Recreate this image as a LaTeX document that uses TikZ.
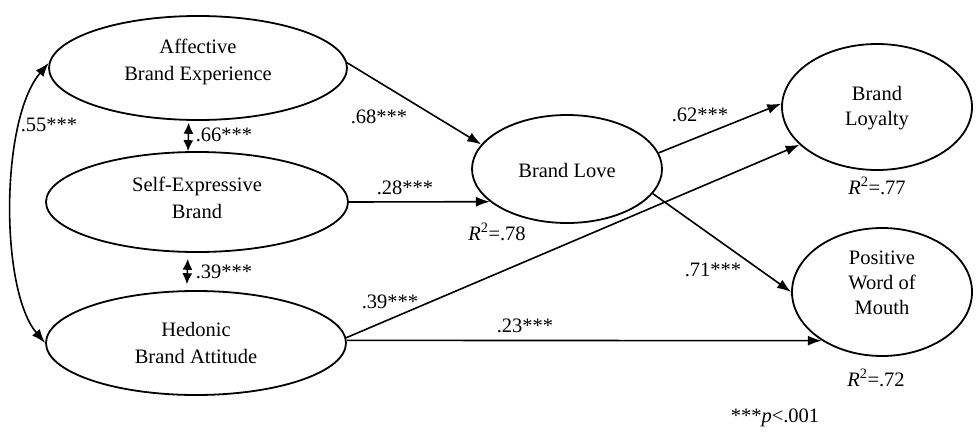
\documentclass[tikz,border=0pt]{standalone}
\usepackage{fontspec}
\setmainfont{Liberation Serif}
\usetikzlibrary{shapes.geometric,arrows.meta}
\begin{document}
\begin{tikzpicture}[x=1pt,y=-1pt,
  lv/.style={ellipse,draw,line width=1.8pt,inner sep=0pt},
  ltxt/.style={align=center,inner sep=0pt,font=\fontsize{20.5}{27.5}\selectfont},
  rtxt/.style={align=center,inner sep=0pt,font=\fontsize{20.5}{25}\selectfont},
  pth/.style={line width=1.6pt,-{Latex[length=14pt,width=10pt]}},
  dbl/.style={line width=1.6pt,{Latex[length=14pt,width=10pt]}-{Latex[length=14pt,width=10pt]}},
  sdbl/.style={line width=1.5pt,{Latex[length=11pt,width=10pt]}-{Latex[length=11pt,width=10pt]}},
  lbl/.style={font=\fontsize{20.5}{24}\selectfont,inner sep=0pt}]
\useasboundingbox (0,0) rectangle (979,439);
% latent variables (ellipses)
\node[lv,minimum width=298pt,minimum height=104pt] (aff)  at (198,68)  {};
\node[lv,minimum width=302pt,minimum height=100pt] (self) at (197,202) {};
\node[lv,minimum width=300pt,minimum height=104pt] (hed)  at (196,343) {};
\node[lv,minimum width=190pt,minimum height=108pt] (love) at (567,169) {};
\node[lv,minimum width=190pt,minimum height=126pt] (loy)  at (877,107) {};
\node[lv,minimum width=180pt,minimum height=128pt] (wom)  at (882,292) {};
% their texts
\node[ltxt] (afft)  at (198,62)  {Affective\\Brand Experience};
\node[ltxt] (selft) at (197,198) {Self-Expressive\\Brand};
\node[ltxt] (hedt)  at (196,343) {Hedonic\\Brand Attitude};
\node[rtxt] (lovet) at (567,170) {Brand Love};
\node[rtxt] (loyt)  at (877,108) {Brand\\Loyalty};
\node[rtxt] (womt)  at (882,283) {Positive\\Word of\\Mouth};
% structural paths
\draw[pth] (aff.2) -- (love.164.6);
\draw[pth] (self.east) -- (love.203);
\draw[pth] (love.10.4) -- (loy.178);
\draw[pth] (love.-16.8) -- (wom.180);
\draw[pth] (hed.2) -- (loy.206.9);
\draw[pth] (hed.1) -- (wom.219);
% correlations
\draw[dbl] (aff.178) .. controls (0,120) and (0,290) .. (hed.west);
\draw[sdbl,shorten <=2pt,shorten >=0pt] (aff.-100) -- (self.100);
\draw[sdbl,shorten <=6pt,shorten >=6pt] (self.-100) -- (hed.100);
% labels
\node[lbl] (l55) at (49,125) {.55***};
\node[lbl] (l66) at (224,135) {.66***};
\node[lbl] (l39a) at (224,272) {.39***};
\node[lbl] (l68) at (379,117) {.68***};
\node[lbl] (l28) at (405,188) {.28***};
\node[lbl] (l62) at (700,115) {.62***};
\node[lbl] (l71) at (713,270) {.71***};
\node[lbl] (l39b) at (390,302) {.39***};
\node[lbl] (l23) at (525,326) {.23***};
\node[lbl] (r78) at (497,232) {\textit{R}\textsuperscript{2}=.78};
\node[lbl] (r77) at (877,186) {\textit{R}\textsuperscript{2}=.77};
\node[lbl] (r72) at (876,378) {\textit{R}\textsuperscript{2}=.72};
\node[lbl] (pnote) at (775,418) {***\textit{p}<.001};
\end{tikzpicture}
\end{document}
